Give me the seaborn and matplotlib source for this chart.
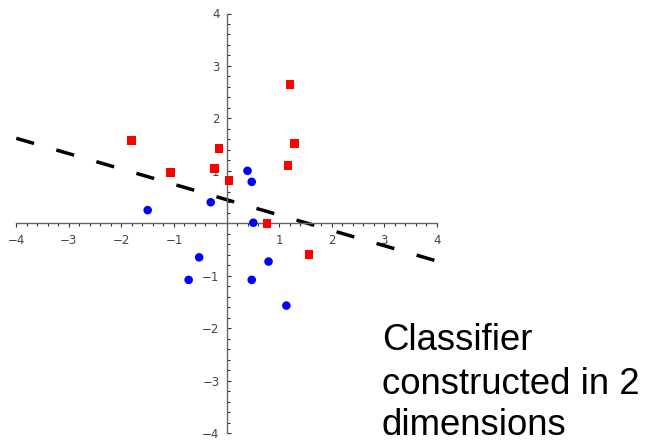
import matplotlib
matplotlib.use("Agg")
import matplotlib.pyplot as plt
import seaborn as sns
import pandas as pd
from matplotlib.ticker import MultipleLocator, FuncFormatter

# Class +1 (red squares)
pos_x = [-1.81, -1.07, -0.14, -0.23, 0.05, 1.21, 1.29, 1.17, 0.77, 1.57]
pos_y = [1.58, 0.97, 1.43, 1.04, 0.82, 2.65, 1.52, 1.10, 0.00, -0.60]

# Class -1 (blue circles)
neg_x = [-1.50, -0.30, 0.40, 0.48, 0.51, -0.52, -0.72, 0.48, 0.80, 1.14]
neg_y = [0.25, 0.40, 1.00, 0.79, 0.01, -0.65, -1.08, -1.08, -0.73, -1.57]

# Linear decision boundary, end points
boundary_x = [-4.0, 4.0]
boundary_y = [1.62, -0.72]

caption_lines = ["Classifier", "constructed in 2", "dimensions"]

df = pd.DataFrame({
    "x": pos_x + neg_x,
    "y": pos_y + neg_y,
    "label": ["+1"] * len(pos_x) + ["-1"] * len(neg_x),
})

sns.set_style("white")
plt.rcParams["font.family"] = ["DejaVu Sans"]

W, H = 648, 443
fig = plt.figure(figsize=(W / 100, H / 100), dpi=100)
ax = fig.add_axes([16.3 / W, 10 / H, 420.4 / W, 419.5 / H])

lw = 2.5
on_px, off_px = 18.5, 23.2
sns.lineplot(x=boundary_x, y=boundary_y, ax=ax, color="black", linewidth=lw,
             linestyle=(0, (on_px * 0.72 / lw, off_px * 0.72 / lw)),
             zorder=2)

sns.scatterplot(data=df, x="x", y="y", hue="label", style="label",
                palette={"+1": "#ff0000", "-1": "#0000ff"},
                markers={"+1": "s", "-1": "o"},
                s=38, linewidth=0, legend=False, ax=ax, zorder=3)

ax.set_xlim(-4, 4)
ax.set_ylim(-4, 4)
ax.set_xlabel("")
ax.set_ylabel("")

for side in ("top", "right"):
    ax.spines[side].set_visible(False)
for side in ("left", "bottom"):
    ax.spines[side].set_position("zero")
    ax.spines[side].set_color("#666666")
    ax.spines[side].set_linewidth(1.0)

ax.xaxis.set_major_locator(MultipleLocator(1))
ax.yaxis.set_major_locator(MultipleLocator(1))
ax.xaxis.set_minor_locator(MultipleLocator(0.2))
ax.yaxis.set_minor_locator(MultipleLocator(0.2))

fmt = FuncFormatter(lambda v, p: "" if abs(v) < 1e-9 else f"{int(round(v))}".replace("-", "\u2212"))
ax.xaxis.set_major_formatter(fmt)
ax.yaxis.set_major_formatter(fmt)

ax.tick_params(axis="x", which="both", bottom=True, direction="out", color="#333333",
               width=0.8, labelsize=8.5, labelcolor="#444444", pad=5)
ax.tick_params(axis="y", which="both", left=True, direction="in", color="#333333",
               width=0.8, labelsize=8.5, labelcolor="#444444", pad=5)
ax.tick_params(which="major", length=3.0)
ax.tick_params(which="minor", length=2.2)

baselines = [350, 394.5, 435]
for text, b in zip(caption_lines, baselines):
    fig.text(382 / W, 1 - b / H, text, fontsize=26.3, family="Liberation Sans",
             color="black", ha="left", va="baseline")

fig.savefig("out.png", dpi=100)
